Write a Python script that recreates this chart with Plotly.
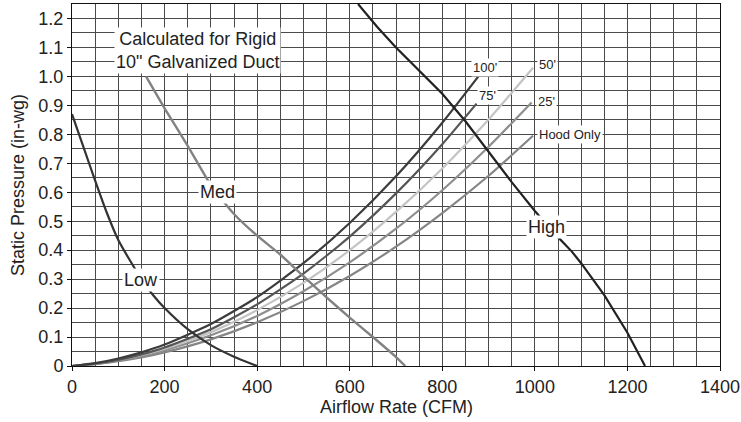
import plotly.graph_objects as go

# ---------------- data ----------------
low_x = [0, 25, 50, 75, 100, 125, 150, 175, 200, 250, 300, 350, 400]
low_y = [0.87, 0.755, 0.64, 0.53, 0.435, 0.365, 0.30, 0.245, 0.20, 0.127, 0.072, 0.032, 0.0]

med_x = [160, 200, 250, 300, 350, 400, 450, 500, 550, 600, 650, 700, 720]
med_y = [1.0, 0.89, 0.76, 0.625, 0.525, 0.45, 0.385, 0.31, 0.237, 0.167, 0.10, 0.031, 0.0]

high_x = [618, 660, 700, 750, 800, 850, 900, 950, 1000, 1050, 1080, 1100, 1125, 1150, 1200, 1238]
high_y = [1.25, 1.17, 1.10, 1.02, 0.94, 0.845, 0.74, 0.635, 0.535, 0.445, 0.395, 0.355, 0.30, 0.245, 0.115, 0.0]

d100_x = [0, 50, 100, 150, 200, 300, 400, 500, 600, 700, 800, 878]
d100_y = [0, 0.010, 0.026, 0.047, 0.074, 0.145, 0.238, 0.355, 0.494, 0.655, 0.84, 1.0]

d75_x = [0, 50, 100, 150, 200, 300, 400, 500, 600, 700, 800, 874]
d75_y = [0, 0.008, 0.021, 0.040, 0.064, 0.127, 0.213, 0.319, 0.447, 0.596, 0.766, 0.906]

d50_x = [0, 50, 100, 150, 200, 300, 400, 500, 600, 700, 800, 900, 996]
d50_y = [0, 0.008, 0.021, 0.038, 0.060, 0.117, 0.193, 0.287, 0.400, 0.532, 0.682, 0.851, 1.03]

d25_x = [0, 50, 100, 150, 200, 300, 400, 500, 600, 700, 800, 900, 993]
d25_y = [0, 0.007, 0.019, 0.035, 0.054, 0.106, 0.173, 0.258, 0.358, 0.474, 0.607, 0.757, 0.91]

hood_x = [0, 50, 100, 150, 200, 300, 400, 500, 600, 700, 800, 900, 996]
hood_y = [0, 0.0065, 0.017, 0.030, 0.047, 0.092, 0.151, 0.224, 0.311, 0.412, 0.528, 0.657, 0.795]

x_ticks = [0, 200, 400, 600, 800, 1000, 1200, 1400]
y_ticks = [0, 0.1, 0.2, 0.3, 0.4, 0.5, 0.6, 0.7, 0.8, 0.9, 1.0, 1.1, 1.2]
y_tick_text = ["0", "0.1", "0.2", "0.3", "0.4", "0.5", "0.6", "0.7", "0.8", "0.9", "1.0", "1.1", "1.2"]

# ---------------- figure ----------------
FONT = "Arial, 'Liberation Sans', Helvetica, sans-serif"
fig = go.Figure()

series = [
    (hood_x, hood_y, "#858585", 2.2, "Hood Only", "spline"),
    (d25_x, d25_y, "#8e8e8e", 2.2, "25'", "spline"),
    (d50_x, d50_y, "#c4c4c4", 2.2, "50'", "spline"),
    (d75_x, d75_y, "#555555", 2.2, "75'", "spline"),
    (d100_x, d100_y, "#3c3c3c", 2.2, "100'", "spline"),
    (low_x, low_y, "#333333", 2.2, "Low", "spline"),
    (med_x, med_y, "#828282", 2.4, "Med", "spline"),
    (high_x, high_y, "#222222", 2.2, "High", "linear"),
]
for xs, ys, col, w, name, shp in series:
    line = dict(color=col, width=w, shape=shp)
    if shp == "spline":
        line["smoothing"] = 0.6
    fig.add_trace(go.Scatter(x=xs, y=ys, mode="lines", name=name, line=line,
                             showlegend=False, hoverinfo="skip"))

def label(x, y, text, size):
    fig.add_annotation(x=x, y=y, text=text, showarrow=False, xref="x", yref="y",
                       font=dict(family=FONT, size=size, color="#222222"),
                       bgcolor="white", borderpad=1, xanchor="center", yanchor="middle")

label(271, 1.088, "Calculated for Rigid<br>10\" Galvanized Duct", 18)
label(315, 0.6, "Med", 18)
label(148, 0.298, "Low", 18)
label(1025, 0.48, "High", 18)
label(892, 1.03, "100'", 13)
label(898, 0.933, "75'", 13)
label(1027, 1.04, "50'", 13)
label(1026, 0.914, "25'", 13)
label(1076, 0.80, "Hood Only", 13)

# axis titles as annotations for exact placement
fig.add_annotation(text="Static Pressure (in-wg)", xref="paper", yref="paper",
                   x=0, y=0.5, xshift=-54, textangle=-90, showarrow=False,
                   xanchor="center", yanchor="middle",
                   font=dict(family=FONT, size=18, color="#222222"))
fig.add_annotation(text="Airflow Rate (CFM)", xref="paper", yref="paper",
                   x=0.5, y=0, yshift=-41, showarrow=False,
                   xanchor="center", yanchor="middle",
                   font=dict(family=FONT, size=18, color="#222222"))

GRID = "#4a4a4a"
fig.update_xaxes(range=[0, 1400], tickmode="array", tickvals=x_ticks,
                 automargin=False,
                 showgrid=True, gridcolor=GRID, gridwidth=1,
                 minor=dict(tickmode="linear", tick0=0, dtick=50, showgrid=True,
                            gridcolor=GRID, gridwidth=1, ticks=""),
                 showline=True, linecolor="#111111", linewidth=1, mirror=True,
                 ticks="outside", ticklen=4, tickcolor="#111111",
                 zeroline=False,
                 tickfont=dict(family=FONT, size=18, color="#222222"))
fig.update_yaxes(range=[0, 1.25], tickmode="array", tickvals=y_ticks, ticktext=y_tick_text,
                 automargin=False,
                 showgrid=True, gridcolor=GRID, gridwidth=1,
                 minor=dict(tickmode="linear", tick0=0, dtick=0.05, showgrid=True,
                            gridcolor=GRID, gridwidth=1, ticks=""),
                 showline=True, linecolor="#111111", linewidth=1, mirror=True,
                 ticks="outside", ticklen=4, tickcolor="#111111",
                 zeroline=False,
                 tickfont=dict(family=FONT, size=18, color="#222222"))

fig.update_layout(width=741, height=422,
                  margin=dict(l=72, r=21, t=4, b=56),
                  paper_bgcolor="white", plot_bgcolor="white",
                  font=dict(family=FONT, color="#222222"))

fig.write_html("out.html", config={"displayModeBar": False},
               post_script="document.body.style.margin='0';document.body.style.overflow='hidden';")
